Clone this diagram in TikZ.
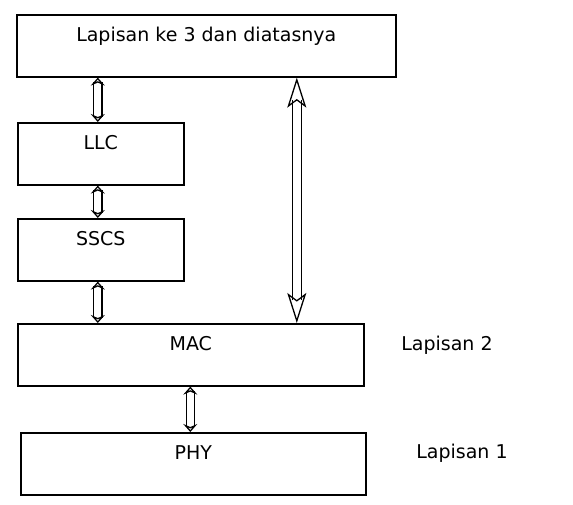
\documentclass[tikz,border=0pt]{standalone}
\usepackage{fontspec}
\setmainfont{DejaVu Sans}
\usetikzlibrary{arrows.meta}

\tikzset{
  layer/.style={rectangle, draw, line width=1.6pt, inner sep=0pt, anchor=north west,
    text height=27pt, text depth=35pt},
  link/.style={double, double distance=7pt, line width=1.3pt,
    {Stealth[open, length=8pt, width=14pt, inset=3pt]}-{Stealth[open, length=8pt, width=14pt, inset=3pt]}},
  biglink/.style={double, double distance=8pt, line width=1.3pt,
    {Stealth[open, length=30pt, width=19pt, inset=7pt]}-{Stealth[open, length=30pt, width=19pt, inset=7pt]}},
  sidelabel/.style={inner sep=0pt}
}

\begin{document}
\begin{tikzpicture}[x=1pt, y=-1pt, font=\fontsize{19}{23}\selectfont]
\useasboundingbox[fill=white] (0,0) rectangle (573,504);

% boxes
\node[layer, minimum width=379pt] (top) at (16,14) {Lapisan ke 3 dan diatasnya};
\node[layer, minimum width=166pt] (llc) at (17,122) {LLC};
\node[layer, minimum width=166pt] (sscs) at (17,218) {SSCS};
\node[layer, minimum width=346pt] (mac) at (17,323) {MAC};
\node[layer, minimum width=345pt] (phy) at (20,432) {PHY};

% side labels
\node[sidelabel] (lap2) at (447,345) {Lapisan 2};
\node[sidelabel] (lap1) at (462,453) {Lapisan 1};

% arrows
\draw[link] ([xshift=-3pt]llc.north) -- ([xshift=-3pt]llc.north |- top.south);
\draw[link] ([xshift=-3pt]sscs.north) -- ([xshift=-3pt]llc.south);
\draw[link] ([xshift=-3pt]sscs.south) -- ([xshift=-3pt]sscs.south |- mac.north);
\draw[link] ([xshift=-3pt]phy.north) -- ([xshift=-3pt]phy.north |- mac.south);
\draw[biglink] ([xshift=106pt]mac.north) -- ([xshift=106pt]mac.north |- top.south);
\end{tikzpicture}
\end{document}
